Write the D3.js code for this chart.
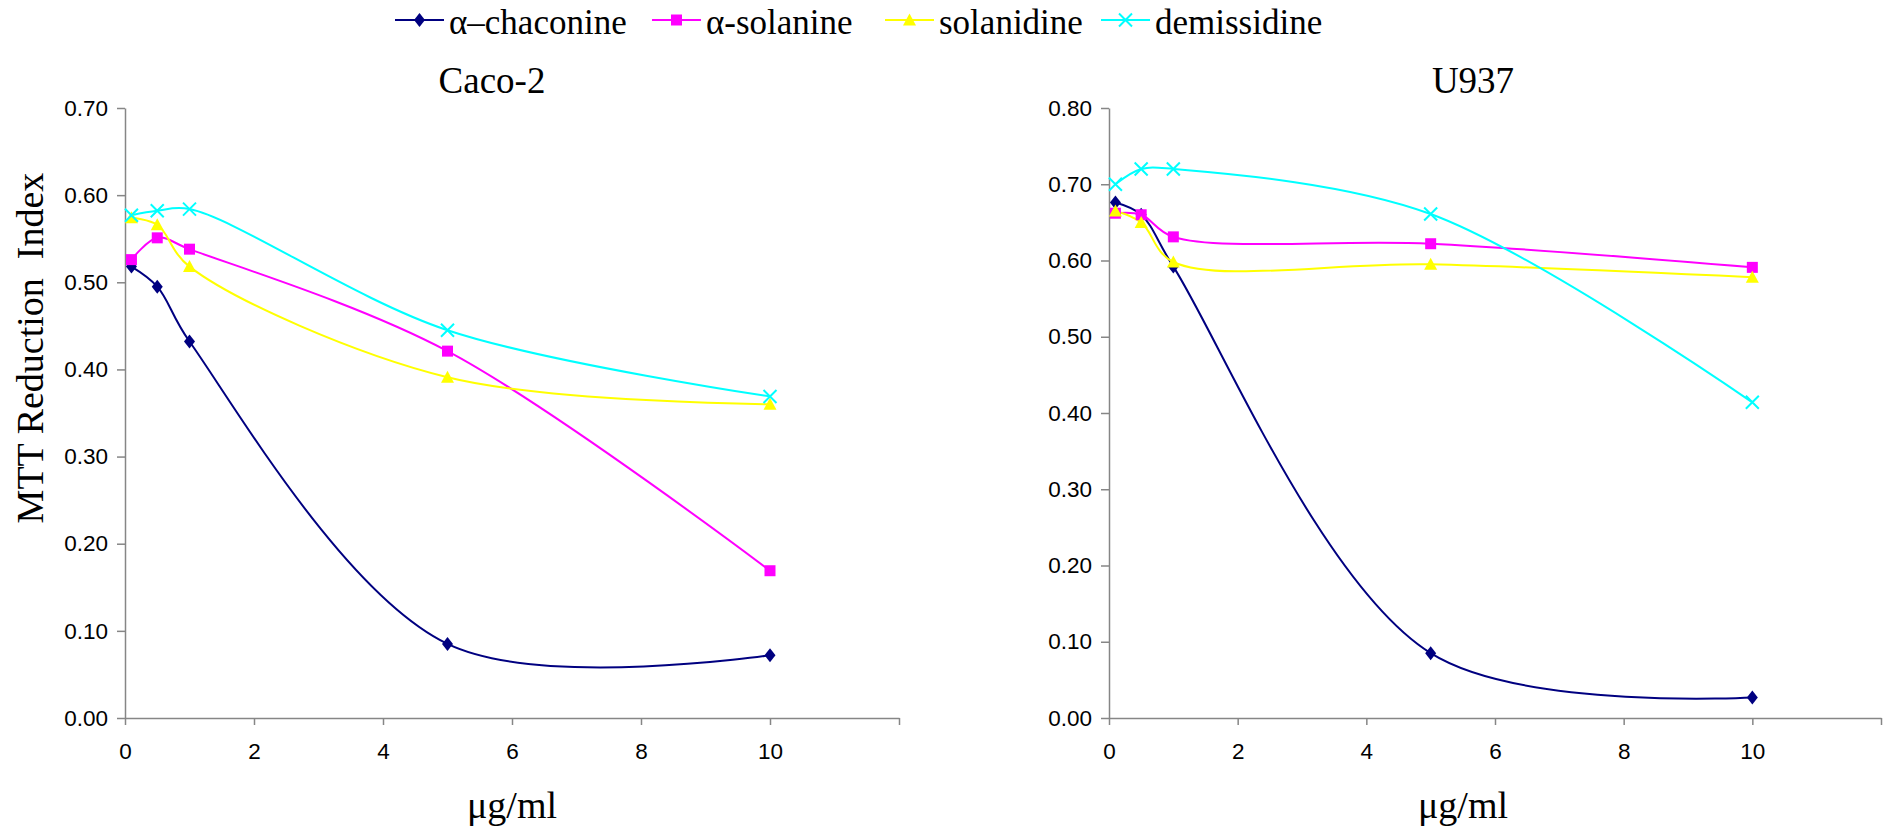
<!DOCTYPE html>
<html>
<head>
<meta charset="utf-8">
<script src="https://cdn.jsdelivr.net/npm/d3@7"></script>
<style>
  html, body { margin: 0; padding: 0; background: #fff; }
  svg { display: block; }
</style>
</head>
<body>
<svg id="chart" width="1883" height="831"></svg>
<script>
// ---- data ----
const concentrations = [0.1, 0.5, 1, 5, 10];
const seriesNames = ["α–chaconine", "α-solanine", "solanidine", "demissidine"];
const seriesColors = ["#000080", "#FF00FF", "#FFFF00", "#00FFFF"];
const seriesMarkers = ["diamond", "square", "triangle", "cross"];

const caco2Chaconine   = [0.518, 0.495, 0.432, 0.085, 0.072];
const caco2Solanine    = [0.526, 0.551, 0.538, 0.421, 0.169];
const caco2Solanidine  = [0.574, 0.566, 0.518, 0.391, 0.360];
const caco2Demissidine = [0.577, 0.582, 0.584, 0.445, 0.369];

const u937Chaconine   = [0.676, 0.660, 0.592, 0.085, 0.027];
const u937Solanine    = [0.662, 0.660, 0.631, 0.622, 0.591];
const u937Solanidine  = [0.665, 0.650, 0.598, 0.595, 0.578];
const u937Demissidine = [0.700, 0.720, 0.720, 0.661, 0.414];

const xTicks = [0, 2, 4, 6, 8, 10, 12];
const xTickLabels = ["0", "2", "4", "6", "8", "10", ""];
const caco2YTicks = [0, 0.1, 0.2, 0.3, 0.4, 0.5, 0.6, 0.7];
const u937YTicks = [0, 0.1, 0.2, 0.3, 0.4, 0.5, 0.6, 0.7, 0.8];

const panelTitles = ["Caco-2", "U937"];
const xAxisTitle = "μg/ml";
const yAxisTitle = "MTT Reduction  Index";

// ---- layout ----
const svg = d3.select("#chart");
const serif = "'Liberation Serif', 'DejaVu Serif', serif";
const sans = "'Liberation Sans', Arial, sans-serif";
const axisColor = "#868686";
const legendItemX = [395, 652, 885, 1101];

const panels = [
  { title: panelTitles[0], x0: 125, x1: 899, yTop: 108, yBot: 718, yMax: 0.7, yTicks: caco2YTicks,
    titleX: 492, xTitleX: 512,
    data: [caco2Chaconine, caco2Solanine, caco2Solanidine, caco2Demissidine] },
  { title: panelTitles[1], x0: 1109, x1: 1881, yTop: 108, yBot: 718, yMax: 0.8, yTicks: u937YTicks,
    titleX: 1473, xTitleX: 1463,
    data: [u937Chaconine, u937Solanine, u937Solanidine, u937Demissidine] }
];

function markerPath(type) {
  switch (type) {
    case "diamond": return "M0,-7L5.5,0L0,7L-5.5,0Z";
    case "square": return "M-5.5,-5.5H5.5V5.5H-5.5Z";
    case "triangle": return "M0,-6.5L6.5,5.5H-6.5Z";
    case "cross": return "M-6.5,-6.5L6.5,6.5M-6.5,6.5L6.5,-6.5";
  }
}
function drawMarker(g, type, color) {
  const p = g.append("path").attr("d", markerPath(type));
  if (type === "cross") p.attr("fill", "none").attr("stroke", color).attr("stroke-width", 2);
  else p.attr("fill", color).attr("stroke", "none");
}

panels.forEach(pn => {
  const x = d3.scaleLinear().domain([0, 12]).range([pn.x0, pn.x1]);
  const y = d3.scaleLinear().domain([0, pn.yMax]).range([pn.yBot, pn.yTop]);
  const g = svg.append("g");

  // y axis
  const ya = g.append("g").attr("transform", `translate(${pn.x0},0)`)
    .call(d3.axisLeft(y).tickValues(pn.yTicks).tickFormat(d3.format(".2f"))
      .tickSize(8).tickSizeOuter(0).tickPadding(9));
  ya.select(".domain").attr("stroke", axisColor).attr("stroke-width", 1.5);
  ya.selectAll(".tick line").attr("stroke", axisColor).attr("stroke-width", 1.5);
  ya.selectAll(".tick text").attr("font-family", sans).attr("font-size", 22.5).attr("fill", "#000");

  // x axis
  const xa = g.append("g").attr("transform", `translate(0,${pn.yBot})`)
    .call(d3.axisBottom(x).tickValues(xTicks).tickFormat((d, i) => xTickLabels[i])
      .tickSize(7).tickSizeOuter(0).tickPadding(18));
  xa.select(".domain").attr("stroke", axisColor).attr("stroke-width", 1.5);
  xa.selectAll(".tick line").attr("stroke", axisColor).attr("stroke-width", 1.5);
  xa.selectAll(".tick text").attr("font-family", sans).attr("font-size", 22.5).attr("fill", "#000");

  // lines
  const line = d3.line().x(d => x(d[0])).y(d => y(d[1])).curve(d3.curveCatmullRom.alpha(0.5));
  pn.data.forEach((vals, si) => {
    const pts = concentrations.map((c, i) => [c, vals[i]]);
    g.append("path").datum(pts).attr("d", line)
      .attr("fill", "none").attr("stroke", seriesColors[si]).attr("stroke-width", 2);
  });
  pn.data.forEach((vals, si) => {
    concentrations.forEach((c, i) => {
      const mg = g.append("g").attr("transform", `translate(${x(c)},${y(vals[i])})`);
      drawMarker(mg, seriesMarkers[si], seriesColors[si]);
    });
  });

  // titles
  g.append("text").attr("x", pn.titleX).attr("y", 93).attr("text-anchor", "middle")
    .attr("font-family", serif).attr("font-size", 37).text(pn.title);
  g.append("text").attr("x", pn.xTitleX).attr("y", 818).attr("text-anchor", "middle")
    .attr("font-family", serif).attr("font-size", 38).text(xAxisTitle);
});

// y axis title
svg.append("text").attr("transform", "translate(43,348) rotate(-90)")
  .attr("text-anchor", "middle").attr("font-family", serif).attr("font-size", 38)
  .attr("xml:space", "preserve").style("white-space", "pre").text(yAxisTitle);

// legend
const legend = svg.append("g");
seriesNames.forEach((name, i) => {
  const item = legend.append("g").attr("transform", `translate(${legendItemX[i]},0)`);
  item.append("line").attr("x1", 0).attr("x2", 49).attr("y1", 20).attr("y2", 20)
    .attr("stroke", seriesColors[i]).attr("stroke-width", 2);
  const mg = item.append("g").attr("transform", "translate(24.5,20)");
  drawMarker(mg, seriesMarkers[i], seriesColors[i]);
  item.append("text").attr("x", 54).attr("y", 34)
    .attr("font-family", serif).attr("font-size", 35).text(name);
});
</script>
</body>
</html>
